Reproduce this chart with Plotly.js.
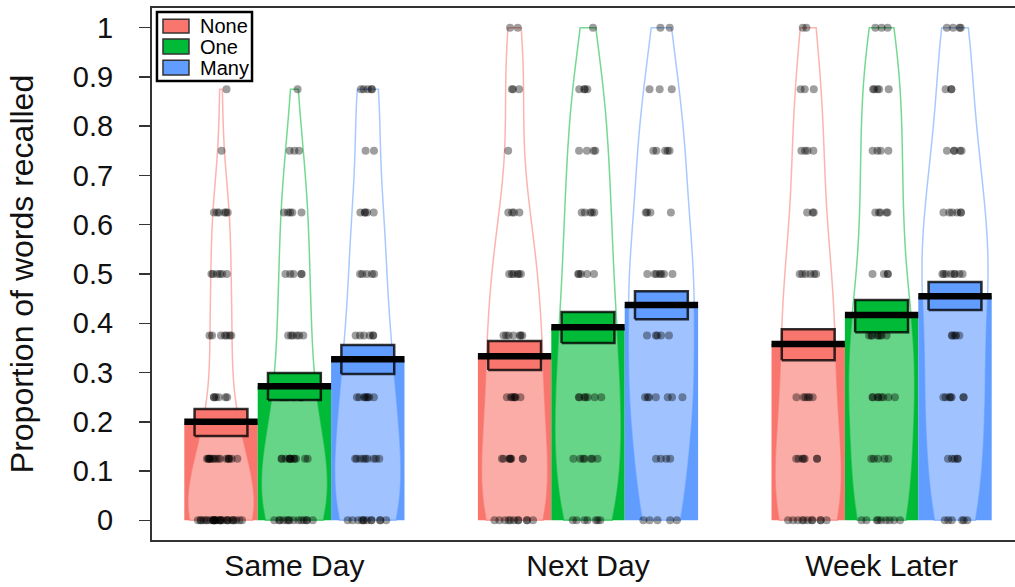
<!DOCTYPE html>
<html><head><meta charset="utf-8">
<script src="https://cdn.plot.ly/plotly-3.0.1.min.js"></script>
<style>html,body{margin:0;padding:0;overflow:hidden;background:#fff}</style>
</head><body><div id="chart" style="width:1030px;height:587px"></div>
<script>
// ---------------- data ----------------
const times = ['Same Day', 'Next Day', 'Week Later'];
const conditions = ['None', 'One', 'Many'];
const levels = [0, 0.125, 0.25, 0.375, 0.5, 0.625, 0.75, 0.875, 1];
const yTicks = [0, 0.1, 0.2, 0.3, 0.4, 0.5, 0.6, 0.7, 0.8, 0.9, 1];
const yTickText = ['0', '0.1', '0.2', '0.3', '0.4', '0.5', '0.6', '0.7', '0.8', '0.9', '1'];

// number of participants at each recall level (levels order), per time x condition
const countsSameDayNone   = [28, 16, 6, 7, 6, 6, 1, 1, 0];
const countsSameDayOne    = [14, 12, 6, 6, 5, 5, 3, 1, 0];
const countsSameDayMany   = [12, 9, 8, 6, 5, 5, 2, 5, 0];
const countsNextDayNone   = [11, 8, 7, 7, 6, 4, 1, 3, 2];
const countsNextDayOne    = [7, 7, 7, 6, 5, 5, 4, 4, 1];
const countsNextDayMany   = [5, 4, 7, 5, 7, 4, 5, 3, 2];
const countsWeekLaterNone = [11, 7, 6, 6, 6, 3, 4, 3, 2];
const countsWeekLaterOne  = [9, 5, 8, 8, 4, 5, 4, 5, 3];
const countsWeekLaterMany = [6, 5, 7, 5, 8, 6, 5, 3, 4];

// means (bar height / black line) and inference band (box) per time, order None/One/Many
const meanSameDay   = [0.200, 0.272, 0.327];
const meanNextDay   = [0.333, 0.392, 0.437];
const meanWeekLater = [0.358, 0.417, 0.455];
const infLowSameDay   = [0.171, 0.244, 0.297];
const infHighSameDay  = [0.226, 0.299, 0.356];
const infLowNextDay   = [0.305, 0.360, 0.408];
const infHighNextDay  = [0.364, 0.423, 0.465];
const infLowWeekLater = [0.325, 0.382, 0.427];
const infHighWeekLater= [0.388, 0.447, 0.484];

// ---------------- styling ----------------
const colors = ['#F8766D', '#00BA38', '#619CFF'];
const outline = ['rgba(248,118,109,0.55)', 'rgba(0,186,56,0.55)', 'rgba(97,156,255,0.55)'];
const FONT = 'Liberation Sans, Arial, sans-serif';

const counts = [
  [countsSameDayNone, countsSameDayOne, countsSameDayMany],
  [countsNextDayNone, countsNextDayOne, countsNextDayMany],
  [countsWeekLaterNone, countsWeekLaterOne, countsWeekLaterMany]
];
const means = [meanSameDay, meanNextDay, meanWeekLater];
const infLow = [infLowSameDay, infLowNextDay, infLowWeekLater];
const infHigh = [infHighSameDay, infHighNextDay, infHighWeekLater];

function pos(g, c) { return 1 + 4 * g + c; }
function expand(cnt) { const v = []; cnt.forEach((n, i) => { for (let k = 0; k < n; k++) v.push(levels[i]); }); return v; }
function q7(s, p) { const h = (s.length - 1) * p, lo = Math.floor(h), hi = Math.min(lo + 1, s.length - 1); return s[lo] + (h - lo) * (s[hi] - s[lo]); }
function bwNrd0(v) {
  const n = v.length, m = v.reduce((a, b) => a + b, 0) / n;
  const sd = Math.sqrt(v.reduce((a, b) => a + (b - m) * (b - m), 0) / (n - 1));
  const s = v.slice().sort((a, b) => a - b);
  let lo = Math.min(sd, (q7(s, 0.75) - q7(s, 0.25)) / 1.34);
  if (!lo) lo = sd || 1;
  return 0.9 * lo * Math.pow(n, -0.2);
}

const traces = [];
// bars
for (let c = 0; c < 3; c++) {
  traces.push({
    type: 'bar', x: [0, 1, 2].map(g => pos(g, c)), y: [0, 1, 2].map(g => means[g][c]),
    width: 1, marker: { color: colors[c], line: { width: 0 } }, showlegend: false, hoverinfo: 'skip'
  });
}
// beans + points
for (let g = 0; g < 3; g++) for (let c = 0; c < 3; c++) {
  const vals = expand(counts[g][c]);
  traces.push({
    type: 'violin', x0: pos(g, c), y: vals, width: 0.9, scalemode: 'width', spanmode: 'hard',
    bandwidth: bwNrd0(vals), points: 'all', pointpos: 0, jitter: 0.72,
    fillcolor: 'rgba(255,255,255,0.4)', line: { color: outline[c], width: 1.5 },
    marker: { color: 'rgba(0,0,0,0.38)', size: 8, line: { width: 0 } },
    box: { visible: false }, meanline: { visible: false }, showlegend: false, hoverinfo: 'skip'
  });
}
// inference boxes
const HW = 0.36;
for (let g = 0; g < 3; g++) for (let c = 0; c < 3; c++) {
  const p = pos(g, c), lo = infLow[g][c], hi = infHigh[g][c];
  traces.push({
    type: 'scatter', mode: 'lines', x: [p - HW, p + HW, p + HW, p - HW, p - HW], y: [lo, lo, hi, hi, lo],
    fill: 'toself', fillcolor: colors[c], line: { color: 'rgba(0,0,0,0.8)', width: 2.5 },
    showlegend: false, hoverinfo: 'skip'
  });
}
// mean lines
{
  const xs = [], ys = [];
  for (let g = 0; g < 3; g++) for (let c = 0; c < 3; c++) {
    const p = pos(g, c);
    xs.push(p - 0.5, p + 0.5, null); ys.push(means[g][c], means[g][c], null);
  }
  traces.push({ type: 'scatter', mode: 'lines', x: xs, y: ys, line: { color: '#000', width: 6.5 }, showlegend: false, hoverinfo: 'skip' });
}

// legend (drawn as a box in the top-left corner)
const shapes = [{ type: 'rect', xref: 'paper', yref: 'paper', x0: 0.0057, x1: 0.1147, y0: 0.8628, y1: 0.9925,
  fillcolor: '#fff', line: { color: '#000', width: 2.5 } }];
const annotations = [];
const rowsY = [[0.953, 0.979], [0.9135, 0.9417], [0.874, 0.902]];
conditions.forEach((name, c) => {
  shapes.push({ type: 'rect', xref: 'paper', yref: 'paper', x0: 0.0126, x1: 0.0424, y0: rowsY[c][0], y1: rowsY[c][1],
    fillcolor: colors[c], line: { color: '#333', width: 1.5 } });
  annotations.push({ xref: 'paper', yref: 'paper', x: 0.0528, y: (rowsY[c][0] + rowsY[c][1]) / 2, xanchor: 'left', yanchor: 'middle',
    text: name, showarrow: false, font: { family: FONT, size: 20, color: '#000' } });
});

const layout = {
  width: 1030, height: 587,
  margin: { l: 152, r: 6, t: 8, b: 47 },
  paper_bgcolor: '#fff', plot_bgcolor: '#fff',
  barmode: 'overlay', violinmode: 'overlay',
  font: { family: FONT, color: '#111' },
  xaxis: {
    type: 'linear', range: [0.06, 11.94], tickvals: [0, 1, 2].map(g => pos(g, 1)), ticktext: times,
    ticks: '', showline: true, mirror: true, linecolor: '#333', linewidth: 2, showgrid: false, zeroline: false,
    tickfont: { family: FONT, size: 30, color: '#111' }, ticklabelstandoff: -2
  },
  yaxis: {
    type: 'linear', range: [-0.04, 1.04], tickvals: yTicks, ticktext: yTickText,
    ticks: 'outside', ticklen: 11, tickwidth: 1.5, tickcolor: '#333',
    showline: true, mirror: true, linecolor: '#333', linewidth: 2, showgrid: false, zeroline: false,
    tickfont: { family: FONT, size: 29, color: '#111' }, ticklabelstandoff: 20,
    title: { text: 'Proportion of words recalled', font: { family: FONT, size: 32, color: '#111' }, standoff: 30 }
  },
  shapes: shapes, annotations: annotations
};

Plotly.newPlot('chart', traces, layout, { staticPlot: true, displayModeBar: false });
</script></body></html>
